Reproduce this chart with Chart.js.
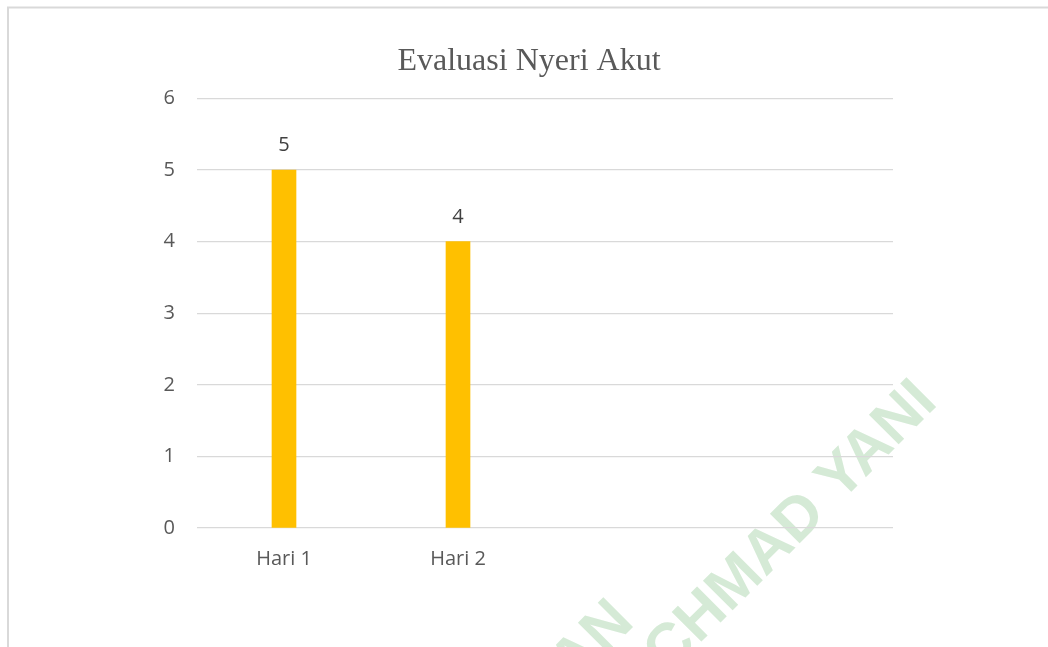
<!DOCTYPE html>
<html>
<head>
<meta charset="utf-8">
<script src="https://cdn.jsdelivr.net/npm/chart.js@4"></script>
<style>
  html, body { margin: 0; padding: 0; background: #fff; }
  #wrap { width: 1048px; height: 647px; }
</style>
</head>
<body>
<div id="wrap"><canvas id="graph"></canvas></div>
<script>
// chart data
var hari = ["Hari 1", "Hari 2", "", ""];
var nyeri = [5, 4, null, null];
var yTicks = [0, 1, 2, 3, 4, 5, 6];
var judul = "Evaluasi Nyeri Akut";
var watermark = ["PERPUSTAKAAN", "JENDERAL ACHMAD YANI"];

var ctx = document.getElementById("graph").getContext("2d");

// frame + library watermark, drawn under everything
var background = {
	id: "background",
	beforeDraw: function(chart) {
		var c = chart.ctx;
		c.save();
		c.fillStyle = "#fff";
		c.fillRect(0, 0, chart.width, chart.height);
		c.strokeStyle = "#d9d9d9";
		c.lineWidth = 2;
		c.strokeRect(8, 7.5, 2000, 2000);

		c.fillStyle = "#d5ead6";
		c.font = "bold 61px 'Liberation Sans'";
		c.textAlign = "right";
		c.textBaseline = "alphabetic";
		c.save();
		c.translate(636, 624);
		c.rotate(-Math.PI / 4);
		c.fillText(watermark[0], 0, 0);
		c.restore();
		c.save();
		c.translate(939, 404);
		c.rotate(-Math.PI / 4);
		c.fillText(watermark[1], 0, 0);
		c.restore();
		c.restore();
	}
};

// value labels above the bars
var valueLabels = {
	id: "valueLabels",
	afterDatasetsDraw: function(chart) {
		var c = chart.ctx;
		var meta = chart.getDatasetMeta(0);
		c.save();
		c.fillStyle = "#404040";
		c.font = "20px 'Open Sans'";
		c.textAlign = "center";
		c.textBaseline = "alphabetic";
		meta.data.forEach(function(bar, i) {
			if (nyeri[i] == null) return;
			c.fillText(String(nyeri[i]), bar.x, bar.y - 19);
		});
		c.restore();
	}
};

var chart = new Chart(ctx, {
	type: "bar",
	data: {
		labels: hari,
		datasets: [{
			label: judul,
			data: nyeri,
			backgroundColor: "#ffc000",
			borderWidth: 0,
			barThickness: 24
		}]
	},
	options: {
		responsive: true,
		maintainAspectRatio: false,
		animation: false,
		layout: { padding: { left: 10, right: 0, top: 0, bottom: 59 } },
		plugins: {
			legend: { display: false },
			tooltip: { enabled: false },
			title: {
				display: true,
				text: judul,
				color: "#595959",
				font: { family: "'Liberation Serif'", size: 32, weight: "normal" },
				padding: { top: 42, bottom: 18 }
			}
		},
		scales: {
			x: {
				afterFit: function(s) { s.height = 60; },
				grid: { display: false, drawTicks: false },
				border: { display: false },
				ticks: {
					color: "#595959",
					font: { family: "'Open Sans'", size: 20 },
					padding: 19,
					maxRotation: 0,
					autoSkip: false
				}
			},
			y: {
				min: 0,
				max: 6,
				afterFit: function(s) { s.width = 187; },
				afterBuildTicks: function(s) {
					s.ticks = yTicks.map(function(v) { return { value: v }; });
				},
				grid: { color: "#d9d9d9", lineWidth: 1.3, drawTicks: false },
				border: { display: false },
				ticks: {
					color: "#595959",
					font: { family: "'Open Sans'", size: 20 },
					padding: 22
				}
			},
			y2: {
				position: "right",
				afterFit: function(s) { s.width = 155; },
				grid: { display: false },
				border: { display: false },
				ticks: { display: false }
			}
		}
	},
	plugins: [background, valueLabels]
});
</script>
</body>
</html>
